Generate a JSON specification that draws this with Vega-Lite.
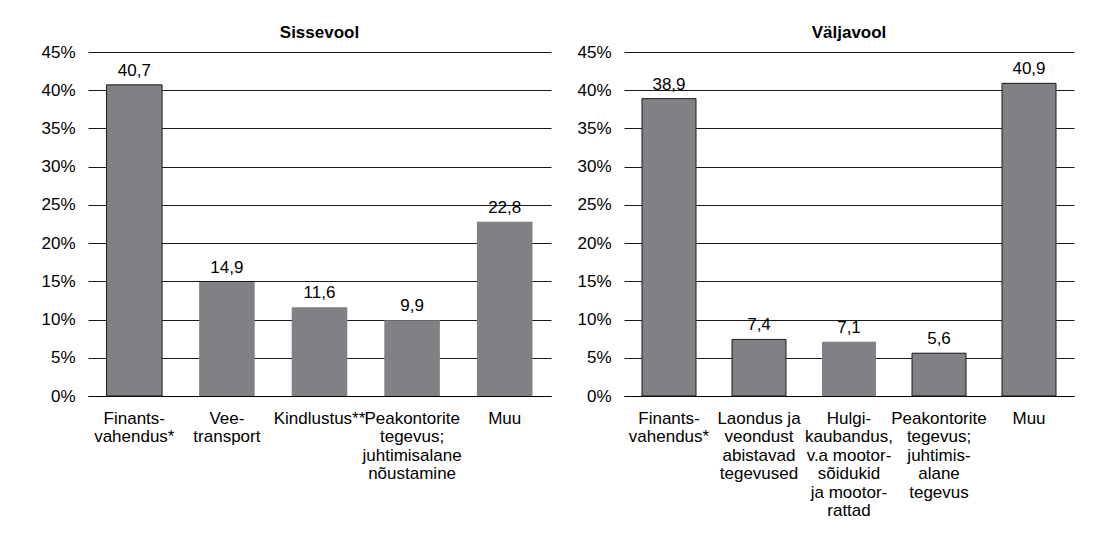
{
  "$schema": "https://vega.github.io/schema/vega-lite/v6.json",
  "background": "white",
  "padding": {"left": 40, "top": 24, "right": 5, "bottom": 5},
  "config": {
    "font": "Liberation Sans",
    "view": {"stroke": null},
    "concat": {"spacing": 25},
    "title": {"fontSize": 17, "fontWeight": "bold", "color": "#000", "offset": 1, "anchor": "middle"},
    "axis": {"labelColor": "#000", "labelFont": "Liberation Sans", "labelFontSize": 17, "ticks": false, "tickSize": 0, "title": null}
  },
  "datasets": {
    "sisse": [
      {"kategooria": "Finants-|vahendus*", "osakaal": 40.7},
      {"kategooria": "Vee-|transport", "osakaal": 14.9},
      {"kategooria": "Kindlustus**", "osakaal": 11.6},
      {"kategooria": "Peakontorite|tegevus;|juhtimisalane|nõustamine", "osakaal": 9.9},
      {"kategooria": "Muu", "osakaal": 22.8}
    ],
    "valja": [
      {"kategooria": "Finants-|vahendus*", "osakaal": 38.9},
      {"kategooria": "Laondus ja|veondust|abistavad|tegevused", "osakaal": 7.4},
      {"kategooria": "Hulgi-|kaubandus,|v.a mootor-|sõidukid|ja mootor-|rattad", "osakaal": 7.1},
      {"kategooria": "Peakontorite|tegevus;|juhtimis-|alane|tegevus", "osakaal": 5.6},
      {"kategooria": "Muu", "osakaal": 40.9}
    ]
  },
  "hconcat": [
    {
      "width": 463,
      "height": 344,
      "title": {"text": "Sissevool"},
      "data": {"name": "sisse"},
      "encoding": {
        "x": {
          "field": "kategooria", "type": "nominal", "sort": null,
          "scale": {"paddingInner": 0.4, "paddingOuter": 0.2},
          "axis": {"labelAngle": 0, "labelExpr": "split(datum.label, '|')", "labelLineHeight": 18.5, "labelLimit": 0, "labelPadding": 14, "labelBaseline": "top", "domain": true, "domainColor": "#000", "domainWidth": 1.2, "labelOverlap": false}
        },
        "y": {
          "field": "osakaal", "type": "quantitative",
          "scale": {"domain": [0, 45], "nice": false},
          "axis": {"values": [0, 5, 10, 15, 20, 25, 30, 35, 40, 45], "labelExpr": "datum.value + '%'", "grid": true, "gridColor": "#1a1a1a", "gridWidth": 1, "domain": false, "labelPadding": 13}
        }
      },
      "layer": [
        {
          "mark": {"type": "bar", "color": "#818185", "strokeWidth": 1},
          "encoding": {"stroke": {"condition": {"test": "datum.kategooria === 'Finants-|vahendus*'", "value": "#1a1a1a"}, "value": null}}
        },
        {
          "mark": {"type": "text", "baseline": "alphabetic", "dy": -9, "fontSize": 17, "color": "#000", "text": {"expr": "replace(format(datum.osakaal, '.1f'), '.', ',')"}},
          "encoding": {}
        }
      ]
    },
    {
      "width": 450,
      "height": 344,
      "title": {"text": "Väljavool"},
      "data": {"name": "valja"},
      "encoding": {
        "x": {
          "field": "kategooria", "type": "nominal", "sort": null,
          "scale": {"paddingInner": 0.4, "paddingOuter": 0.2},
          "axis": {"labelAngle": 0, "labelExpr": "split(datum.label, '|')", "labelLineHeight": 18.5, "labelLimit": 0, "labelPadding": 14, "labelBaseline": "top", "domain": true, "domainColor": "#000", "domainWidth": 1.2, "labelOverlap": false}
        },
        "y": {
          "field": "osakaal", "type": "quantitative",
          "scale": {"domain": [0, 45], "nice": false},
          "axis": {"values": [0, 5, 10, 15, 20, 25, 30, 35, 40, 45], "labelExpr": "datum.value + '%'", "grid": true, "gridColor": "#1a1a1a", "gridWidth": 1, "domain": false, "labelPadding": 13}
        }
      },
      "layer": [
        {
          "mark": {"type": "bar", "color": "#818185", "strokeWidth": 1},
          "encoding": {"stroke": {"condition": {"test": "datum.osakaal !== 7.1", "value": "#1a1a1a"}, "value": null}}
        },
        {
          "mark": {"type": "text", "baseline": "alphabetic", "dy": -9, "fontSize": 17, "color": "#000", "text": {"expr": "replace(format(datum.osakaal, '.1f'), '.', ',')"}},
          "encoding": {}
        }
      ]
    }
  ]
}
